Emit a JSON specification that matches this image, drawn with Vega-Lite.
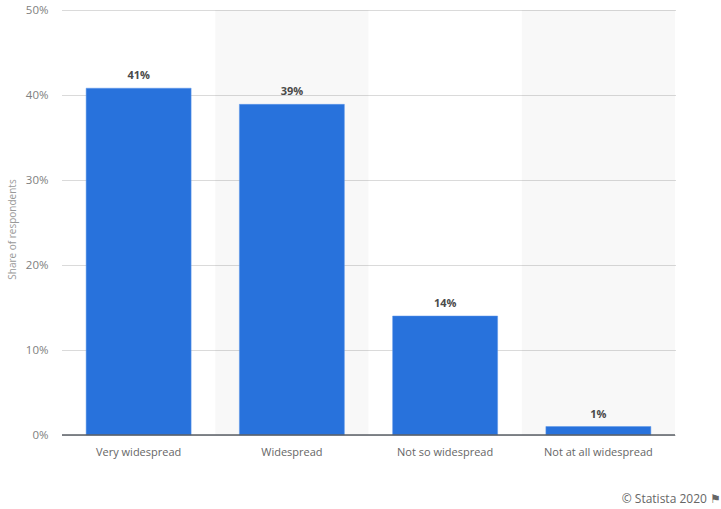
{
  "$schema": "https://vega.github.io/schema/vega-lite/v6.json",
  "width": 613,
  "height": 425,
  "autosize": "none",
  "padding": {"left": 62, "top": 10, "right": 46, "bottom": 74},
  "background": "#ffffff",
  "title": {
    "text": "© Statista 2020 ⚑",
    "orient": "bottom",
    "anchor": "end",
    "frame": "group",
    "offset": 37,
    "dx": 46,
    "font": "Open Sans",
    "fontSize": 12,
    "fontWeight": "normal",
    "color": "#666666"
  },
  "data": {
    "values": [
      {"category": "Very widespread", "share": 40.8, "label": "41%"},
      {"category": "Widespread", "share": 38.9, "label": "39%"},
      {"category": "Not so widespread", "share": 14, "label": "14%"},
      {"category": "Not at all widespread", "share": 1, "label": "1%"}
    ]
  },
  "encoding": {
    "x": {
      "field": "category",
      "type": "nominal",
      "scale": {
        "domain": ["Very widespread", "Widespread", "Not so widespread", "Not at all widespread"],
        "paddingInner": 0.315,
        "paddingOuter": 0.1575
      },
      "axis": {
        "title": null,
        "labelAngle": 0,
        "labelFont": "Open Sans",
        "labelFontSize": 11,
        "labelColor": "#666666",
        "labelPadding": 11,
        "ticks": false,
        "domain": false,
        "grid": false
      }
    }
  },
  "layer": [
    {
      "data": {
        "values": [
          {"category": "Widespread", "top": 50},
          {"category": "Not at all widespread", "top": 50}
        ]
      },
      "mark": {"type": "bar", "color": "#000000", "opacity": 0.028, "width": {"band": 1.46}},
      "encoding": {
        "y": {"field": "top", "type": "quantitative"}
      }
    },
    {
      "mark": {"type": "bar", "color": "#2872dc", "stroke": "#5c96e8", "strokeWidth": 0.5},
      "encoding": {
        "y": {
          "field": "share",
          "type": "quantitative",
          "scale": {"domain": [0, 50]},
          "axis": {
            "title": "Share of respondents",
            "titleFont": "Open Sans",
            "titleFontSize": 10,
            "titleFontWeight": "normal",
            "titleColor": "#999999",
            "titlePadding": 8,
            "titleY": 219,
            "values": [0, 10, 20, 30, 40, 50],
            "labelExpr": "datum.value + '%'",
            "labelFont": "Open Sans",
            "labelFontSize": 11.5,
            "labelColor": "#808080",
            "labelPadding": 14,
            "ticks": false,
            "domain": false,
            "grid": true,
            "gridColor": "#b4b4b4",
            "gridDash": [1, 1],
            "gridWidth": 1
          }
        }
      }
    },
    {
      "mark": {"type": "rule", "color": "#5a5f66", "strokeWidth": 1.5},
      "data": {"values": [{"zero": 0}]},
      "encoding": {
        "x": {"value": 0},
        "x2": {"value": 613},
        "y": {"field": "zero", "type": "quantitative"}
      }
    },
    {
      "mark": {
        "type": "text",
        "dy": -12,
        "font": "Open Sans",
        "fontSize": 11,
        "fontWeight": "bold",
        "color": "#4a4a4a"
      },
      "encoding": {
        "y": {"field": "share", "type": "quantitative"},
        "text": {"field": "label"}
      }
    }
  ],
  "config": {"view": {"stroke": null}}
}
